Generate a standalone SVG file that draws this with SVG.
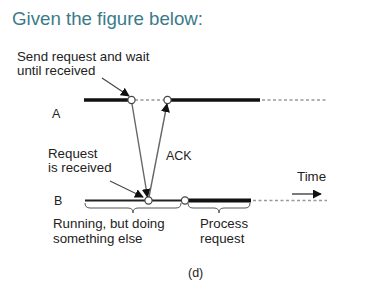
<svg xmlns="http://www.w3.org/2000/svg" width="386" height="293" viewBox="0 0 386 293">
<style>
text{font-family:"Liberation Sans",Arial,sans-serif;fill:#222}
.lbl{font-size:13.3px}
.title{font-size:18.5px;fill:#3b7a8a}
.thick{stroke:#111;stroke-width:3.5;fill:none}
.thin{stroke:#222;stroke-width:2;fill:none}
.dash{stroke:#999;stroke-width:1.3;stroke-dasharray:3 2.5;fill:none}
.evt{fill:#fff;stroke:#444;stroke-width:1.2}
.msg{stroke:#666;stroke-width:1.4;fill:none;marker-end:url(#ah)}
.ann{stroke:#444;stroke-width:1.1;fill:none;marker-end:url(#ah)}
.brace{stroke:#555;stroke-width:1;fill:none}
</style>
<defs>
<marker id="ah" viewBox="0 0 10 10" refX="9" refY="5" markerWidth="9" markerHeight="9" markerUnits="userSpaceOnUse" orient="auto">
<path d="M0,0 L10,5 L0,10 Z" fill="#111"/>
</marker>
</defs>
<rect width="386" height="293" fill="#fff"/>
<text class="title" x="12" y="25" textLength="191" lengthAdjust="spacingAndGlyphs">Given the figure below:</text>

<g id="timeline-A">
<line class="thick" x1="84" y1="100" x2="128" y2="100"/>
<line class="dash" x1="135" y1="100" x2="164" y2="100"/>
<line class="thick" x1="171" y1="100" x2="260" y2="100"/>
<line class="dash" x1="262" y1="100" x2="326" y2="100"/>
<text class="lbl" x="52" y="118" style="font-size:12.5px">A</text>
</g>
<g id="timeline-B">
<line class="thin" x1="85" y1="200.5" x2="145" y2="200.5"/>
<line class="thin" x1="152" y1="200.5" x2="181.5" y2="200.5"/>
<line class="thick" x1="188.5" y1="200.5" x2="251" y2="200.5" style="stroke-width:4"/>
<line class="dash" x1="253" y1="200.5" x2="327" y2="200.5"/>
<text class="lbl" x="54" y="204.5" style="font-size:12.5px">B</text>
</g>

<g id="connectors">
<line class="msg" x1="132" y1="104" x2="147.5" y2="197"/>
<line class="msg" x1="149" y1="197" x2="167" y2="104"/>
<line class="ann" x1="102" y1="78" x2="129" y2="96"/>
<line class="ann" x1="110" y1="181" x2="143" y2="197"/>
<line stroke="#333" stroke-width="1.3" x1="292" y1="194" x2="321" y2="194" marker-end="url(#ah)"/>
</g>

<g id="events">
<circle class="evt" cx="131.5" cy="100" r="3.6"/>
<circle class="evt" cx="167.5" cy="100" r="3.6"/>
<circle class="evt" cx="148.5" cy="200.5" r="3.6"/>
<circle class="evt" cx="185" cy="200.5" r="3.6"/>
</g>

<g id="label-send">
<text class="lbl" x="17" y="61">Send request and wait</text>
<text class="lbl" x="17" y="75">until received</text>
</g>
<g id="label-received">
<text class="lbl" x="48" y="158">Request</text>
<text class="lbl" x="48" y="172">is received</text>
</g>
<g id="label-ack">
<text class="lbl" x="166" y="160" style="font-size:12.5px">ACK</text>
</g>
<g id="label-time">
<text class="lbl" x="297" y="181">Time</text>
</g>
<g id="brace-running">
<path class="brace" d="M85,203 Q85,208 90,208 L128,208 Q133,208 133,213 Q133,208 138,208 L176,208 Q181,208 181,203"/>
<text class="lbl" x="53" y="228">Running, but doing</text>
<text class="lbl" x="53" y="243">something else</text>
</g>
<g id="brace-process">
<path class="brace" d="M188,203 Q188,208 193,208 L214,208 Q219,208 219,213 Q219,208 224,208 L245,208 Q250,208 250,203"/>
<text class="lbl" x="200" y="228">Process</text>
<text class="lbl" x="200" y="243">request</text>
</g>
<text class="lbl" x="188" y="277" style="font-size:12.5px">(d)</text>
</svg>
